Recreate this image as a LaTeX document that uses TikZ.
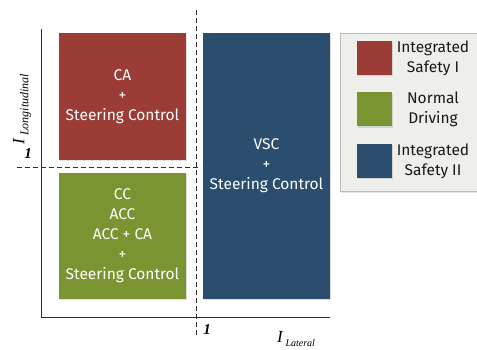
\documentclass[tikz,border=0pt]{standalone}
\usepackage{fontspec}
\setsansfont{Fira Sans}
\newfontfamily\axisfont{Liberation Serif}
\usepackage{xcolor}
\usepackage{tikz}
\usetikzlibrary{shadows}
\definecolor{safetyone}{RGB}{155, 61, 54}
\definecolor{normaldrv}{RGB}{122, 148, 50}
\definecolor{safetytwo}{RGB}{44, 78, 110}
\definecolor{legendbg}{RGB}{238, 238, 235}
\definecolor{legendline}{RGB}{188, 190, 172}
\definecolor{axisgray}{RGB}{45, 45, 45}

\begin{document}
\begin{tikzpicture}[x=1pt,y=1pt,
  region/.style={inner sep=0pt,outer sep=0pt,text=white,align=center,
    font=\sffamily\fontsize{15.5}{20}\selectfont,
    drop shadow={shadow xshift=1pt,shadow yshift=-1.5pt,opacity=.25}},
  swatch/.style={inner sep=0pt,outer sep=0pt,minimum width=35pt,minimum height=34pt,
    drop shadow={shadow xshift=1pt,shadow yshift=-1.5pt,opacity=.25}},
  legtext/.style={align=center,text=black!90,font=\sffamily\fontsize{15.5}{20}\selectfont},
  axislbl/.style={inner sep=0pt,font=\axisfont\itshape},
  limit/.style={dashed,dash pattern=on 5pt off 3pt,line width=.9pt,axisgray}]
  \useasboundingbox (0,0) rectangle (477,350);
  % regions
  \node[region,fill=safetyone,minimum width=127pt,minimum height=127pt] (isone) at (122.5,253.5)
    {CA\\+\\Steering Control};
  \node[region,fill=normaldrv,minimum width=127pt,minimum height=126pt] (normal) at (122.5,114)
    {CC\\ACC\\ACC + CA\\+\\Steering Control};
  \node[region,fill=safetytwo,minimum width=127pt,minimum height=266pt] (istwo) at (266.5,184)
    {VSC\\+\\Steering Control};
  % axes
  \coordinate (ytop) at (41,321);
  \coordinate (origin) at (41,33);
  \coordinate (xend) at (330,33);
  \draw[line width=.9pt,axisgray] (ytop) -- (origin) -- (xend);
  \coordinate (vtop) at (196,340);
  \coordinate (vbot) at (196,14);
  \coordinate (hleft) at (17,183);
  \coordinate (hright) at (201,183);
  \draw[limit] (vtop) -- (vbot);
  \draw[limit] (hleft) -- (hright);
  \node[axislbl,font=\axisfont\itshape\bfseries\fontsize{15}{15}\selectfont] (onelong) at (28,196) {1};
  \node[axislbl,font=\axisfont\itshape\bfseries\fontsize{15}{15}\selectfont] (onelat) at (207,20) {1};
  \node[axislbl,rotate=90] (ilong) at (22,241)
    {\fontsize{17}{17}\selectfont I\,\raisebox{-4pt}{\fontsize{12}{12}\selectfont Longitudinal}};
  \node[axislbl] (ilat) at (296,11)
    {\fontsize{17}{17}\selectfont I\,\raisebox{-4pt}{\fontsize{10}{10}\selectfont Lateral}};
  % legend
  \node[draw=legendline,fill=legendbg,line width=.8pt,minimum width=139pt,minimum height=158pt,
    drop shadow={shadow xshift=1pt,shadow yshift=-2pt,opacity=.2}] (legend) at (409.5,238) {};
  \node[swatch,fill=safetyone] (keyone) at (374.5,292) {};
  \node[swatch,fill=normaldrv] (keynormal) at (374.5,240.5) {};
  \node[swatch,fill=safetytwo] (keytwo) at (374.5,189) {};
  \node[legtext] (txtone) at (433,292) {Integrated\\Safety I};
  \node[legtext] (txtnormal) at (433,240.5) {Normal\\Driving};
  \node[legtext] (txttwo) at (433,189) {Integrated\\Safety II};
\end{tikzpicture}
\end{document}
